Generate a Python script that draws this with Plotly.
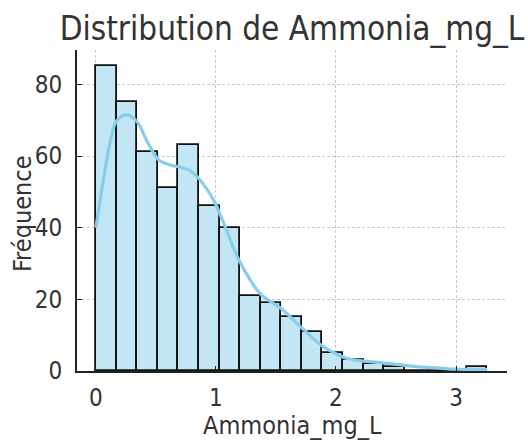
import plotly.graph_objects as go

# ---- data ----
bin_start = 0.0
bin_end = 3.26
counts = [85, 75, 61, 51, 63, 46, 40, 21, 19, 15, 11, 5, 3, 2, 1, 0, 0, 0, 1]

kde_x = [0.0, 0.06, 0.12, 0.17, 0.255, 0.34, 0.42, 0.52, 0.62, 0.70, 0.78, 0.85,
         0.98, 1.06, 1.2, 1.37, 1.54, 1.71, 1.88, 2.0, 2.1, 2.28, 2.47, 2.67, 2.86, 3.0, 3.26]
kde_y = [40, 53, 64, 69.7, 71.5, 69.7, 64.5, 59, 57.5, 56.9, 56, 54,
         47.7, 41.6, 30.4, 21.5, 17.5, 12.2, 7.1, 4.8, 3.4, 2.6, 2.0, 1.2, 0.8, 0.5, 0.4]

x_ticks = [0, 1, 2, 3]
y_ticks = [0, 20, 40, 60, 80]

title_text = "Distribution de Ammonia_mg_L"
x_label = "Ammonia_mg_L"
y_label = "Fréquence"

n_bins = len(counts)
bw = (bin_end - bin_start) / n_bins
centers = [bin_start + bw * (i + 0.5) for i in range(n_bins)]

FONT = "DejaVu Sans Condensed, Liberation Sans Narrow, DejaVu Sans, sans-serif"
TXT = "#333333"
W, H = 528, 441
L, R, T, B = 77, 21, 50, 70

fig = go.Figure()
fig.add_trace(go.Bar(
    x=centers, y=counts, width=bw,
    marker=dict(color="#c3e6f4", line=dict(color="#111111", width=1.8)),
    showlegend=False, hoverinfo="x+y",
))
fig.add_trace(go.Scatter(
    x=kde_x, y=kde_y, mode="lines", line=dict(color="#87CEEB", width=3.2, shape="spline"),
    showlegend=False,
))

fig.update_layout(
    width=W, height=H,
    margin=dict(l=L, r=R, t=T, b=B, autoexpand=False),
    paper_bgcolor="white", plot_bgcolor="white",
    font=dict(family=FONT, color=TXT, size=24),
    bargap=0,
    title=dict(text=title_text, x=0.5, xref="paper", xanchor="center",
               y=1 - 28 / H, yref="container", yanchor="middle",
               font=dict(family=FONT, size=33, color=TXT)),
    xaxis=dict(
        range=[-0.158, 3.425], tickvals=x_ticks, ticktext=[str(v) for v in x_ticks],
        showgrid=True, gridcolor="#c8c8c8", griddash="3px,2px", gridwidth=1,
        zeroline=False, showline=True, linecolor="#222222", linewidth=1.8,
        ticks="inside", ticklen=5, tickcolor="#222222", tickwidth=1.2,
        tickfont=dict(size=24), ticklabelstandoff=4, automargin=False,
    ),
    yaxis=dict(
        range=[0, 89.6], tickvals=y_ticks, ticktext=[str(v) for v in y_ticks],
        showgrid=True, gridcolor="#c8c8c8", griddash="3px,2px", gridwidth=1,
        zeroline=False, showline=True, linecolor="#222222", linewidth=1.8,
        ticks="inside", ticklen=5, tickcolor="#222222", tickwidth=1.2,
        tickfont=dict(size=24), ticklabelstandoff=8, automargin=False,
    ),
    annotations=[
        dict(text=x_label, xref="paper", yref="paper", x=0.5, y=-(425 - (H - B)) / (H - T - B),
             xanchor="center", yanchor="middle", showarrow=False, font=dict(size=25)),
        dict(text=y_label, xref="paper", yref="paper", x=(23 - L) / (W - L - R), y=1 - (213 - T) / (H - T - B),
             xanchor="center", yanchor="middle", showarrow=False, textangle=-90, font=dict(size=25)),
    ],
)

fig.write_html(
    "out.html",
    config={"displayModeBar": False},
    post_script="document.body.style.margin='0';document.body.style.overflow='hidden';",
)
